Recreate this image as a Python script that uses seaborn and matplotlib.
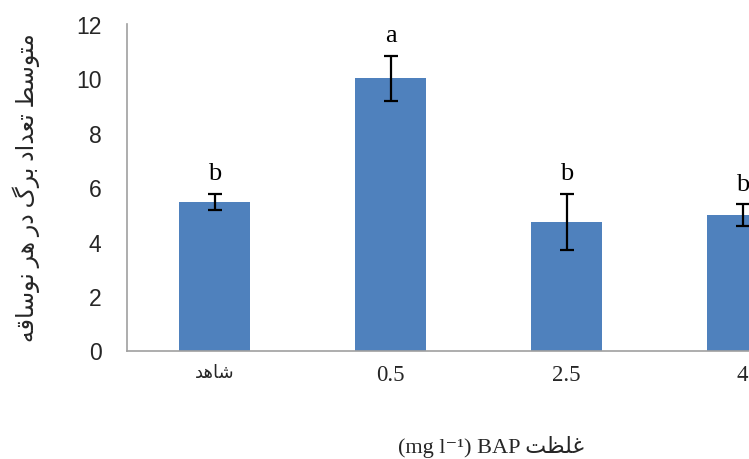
import matplotlib
matplotlib.use("Agg")
import matplotlib.pyplot as plt
import seaborn as sns
import pandas as pd

# ---------------- data ----------------
categories = ["شاهد", "0.5", "2.5", "4"]
means = [5.45, 10.0, 4.72, 4.97]
errors = [0.30, 0.83, 1.03, 0.40]
letters = ["b", "a", "b", "b"]
y_ticks = [0, 2, 4, 6, 8, 10, 12]
y_label = "متوسط تعداد برگ در هر نوساقه"
x_label_ar = "غلظت"
x_label_lat = "(mg l⁻¹) BAP "

# ------------- minimal Arabic/Persian shaping (presentation forms) -------------
FORMS = {
    "ا": (0xFE8D, 0xFE8E), "د": (0xFEA9, 0xFEAA), "ر": (0xFEAD, 0xFEAE),
    "و": (0xFEED, 0xFEEE),
    "ب": (0xFE8F, 0xFE90, 0xFE91, 0xFE92), "ت": (0xFE95, 0xFE96, 0xFE97, 0xFE98),
    "س": (0xFEB1, 0xFEB2, 0xFEB3, 0xFEB4), "ش": (0xFEB5, 0xFEB6, 0xFEB7, 0xFEB8),
    "ط": (0xFEC1, 0xFEC2, 0xFEC3, 0xFEC4), "ظ": (0xFEC5, 0xFEC6, 0xFEC7, 0xFEC8),
    "ع": (0xFEC9, 0xFECA, 0xFECB, 0xFECC), "غ": (0xFECD, 0xFECE, 0xFECF, 0xFED0),
    "ق": (0xFED5, 0xFED6, 0xFED7, 0xFED8), "ل": (0xFEDD, 0xFEDE, 0xFEDF, 0xFEE0),
    "م": (0xFEE1, 0xFEE2, 0xFEE3, 0xFEE4), "ن": (0xFEE5, 0xFEE6, 0xFEE7, 0xFEE8),
    "ه": (0xFEE9, 0xFEEA, 0xFEEB, 0xFEEC), "گ": (0xFB92, 0xFB93, 0xFB94, 0xFB95),
}


def shape(text):
    out = []
    n = len(text)
    for i, ch in enumerate(text):
        if ch not in FORMS:
            out.append(ch)
            continue
        f = FORMS[ch]
        prev = text[i - 1] if i > 0 else None
        nxt = text[i + 1] if i < n - 1 else None
        jp = prev in FORMS and len(FORMS[prev]) == 4
        jn = len(f) == 4 and nxt in FORMS
        if jp and jn:
            c = f[3]
        elif jp:
            c = f[1]
        elif jn:
            c = f[2]
        else:
            c = f[0]
        out.append(chr(c))
    return "".join(out)[::-1]


def is_arabic(s):
    return any(ch in FORMS for ch in s)


def vis(s):
    return shape(s) if is_arabic(s) else s


SERIF = ["Liberation Serif", "DejaVu Sans"]

# ---------------- figure ----------------
sns.set_theme(style="white")
plt.rcParams["font.family"] = SERIF

fig = plt.figure(figsize=(7.49, 4.60), dpi=100)
ax = fig.add_axes([126.5 / 749, (460 - 351.5) / 460, 704 / 749, 326.5 / 460])

df = pd.DataFrame({"cat": [vis(c) for c in categories], "val": means})
sns.barplot(data=df, x="cat", y="val", color="#4F81BD", saturation=1,
            width=0.40, errorbar=None, ax=ax, linewidth=0)

xs = list(range(len(categories)))
ax.errorbar(xs, means, yerr=errors, fmt="none", ecolor="black",
            elinewidth=1.6, capsize=4.8, capthick=1.6, zorder=5)

for x, m, e, t in zip(xs, means, errors, letters):
    ax.annotate(t, (x, m + e), xytext=(0, 10.5), textcoords="offset points",
                ha="center", va="baseline", fontsize=19,
                family=SERIF, color="black", annotation_clip=False)

ax.set_xlim(-0.5, len(categories) - 0.5)
ax.set_ylim(0, 12)
ax.set_yticks(y_ticks)
ax.set_yticklabels([str(v) for v in y_ticks], family=["Liberation Sans", "DejaVu Sans"],
                   fontsize=16.5)
for lbl, cat in zip(ax.get_xticklabels(), categories):
    lbl.set_fontfamily(SERIF)
    lbl.set_fontsize(13 if is_arabic(cat) else 16.5)
ax.tick_params(axis="x", length=0, pad=10)
ax.tick_params(axis="y", length=0, pad=18)
ax.set_xlabel("")
ax.set_ylabel("")

for side in ["top", "right"]:
    ax.spines[side].set_visible(False)
for side in ["left", "bottom"]:
    ax.spines[side].set_color("#A0A0A0")
    ax.spines[side].set_linewidth(1.2)

fig.text(26 / 749, 1 - 188 / 460, vis(y_label), rotation=90, ha="center",
         va="center", fontsize=17, family=SERIF)
fig.text(491 / 749, 1 - 447 / 460, x_label_lat + vis(x_label_ar), ha="center",
         va="center", fontsize=16, family=SERIF)

fig.savefig("out.png", dpi=100)
